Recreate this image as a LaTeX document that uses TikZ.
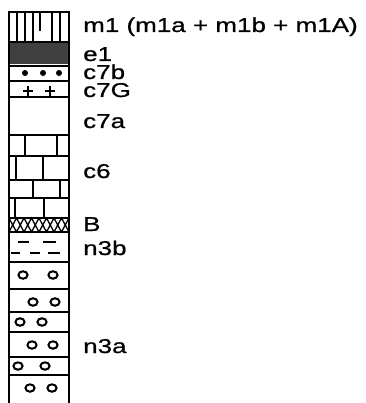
\documentclass[tikz,border=0pt]{standalone}
\usepackage{fontspec}
\newfontfamily\labelfont[FakeStretch=1.3, FakeBold=0.8]{Liberation Sans}
\begin{document}
\begin{tikzpicture}[x=1pt,y=-1pt,
  bed/.style={line width=1.5pt},
  frame/.style={line width=2.2pt},
  pebble/.style={line width=2pt, x radius=4.6pt, y radius=3.7pt},
  unit/.style={anchor=base west, inner sep=0pt, font=\labelfont\fontsize{20}{20}\selectfont}]
\useasboundingbox (0,0) rectangle (365,403);
\fill[white] (0,0) rectangle (365,403);

% m1: vertical ruling
\foreach \x in {17,25,33,52,60} \draw[line width=1.1pt] (\x,12) -- (\x,42);
\draw[line width=1.1pt] (40,12) -- (40,31);
% e1: dark band
\fill[black!75] (9,42) rectangle (69,64);
% c7b: dots
\foreach \x in {25,43,59} \fill (\x,73) circle (3pt);
% c7G: crosses
\foreach \x in {28,50} {
  \draw[line width=1.6pt] (\x-5,91) -- (\x+5,91);
  \draw[line width=1.6pt] (\x,86) -- (\x,96);
}
% c6: bricks
\draw[bed] (9,156) -- (69,156);
\draw[bed] (9,180) -- (69,180);
\draw[bed] (9,198) -- (69,198);
\foreach \x in {25,57} \draw[bed] (\x,135) -- (\x,156);
\foreach \x in {16,43} \draw[bed] (\x,156) -- (\x,180);
\foreach \x in {33,60} \draw[bed] (\x,180) -- (\x,198);
\foreach \x in {15,44} \draw[bed] (\x,198) -- (\x,218);
% B: cross-hatching
\foreach \i in {0,...,3} {
  \pgfmathsetmacro{\a}{9+15*\i}
  \draw[line width=1.3pt] (\a,218) -- (\a+7.5,232) -- (\a+15,218);
  \draw[line width=1.3pt] (\a,232) -- (\a+7.5,218) -- (\a+15,232);
}
% n3b: dashes
\foreach \a/\b in {18/29,43/56} \draw[line width=1.8pt] (\a,242) -- (\b,242);
\foreach \a/\b in {11/20,30/40,48/60} \draw[line width=1.8pt] (\a,253) -- (\b,253);
% n3a: conglomerate beds and pebbles
\foreach \y in {289,312,332,357,375} \draw[bed] (9,\y) -- (69,\y);
\foreach \x/\y in {23/275,53/275,33/302,55/302,20/322,42/322,
                   32/345,53/345,18/366,45/366,30/388,52/388}
  \draw[pebble] (\x,\y) ellipse [];

% bed boundaries
\foreach \y in {42,66,81,97,135,218,232,262} \draw[bed] (9,\y) -- (69,\y);
% column frame
\draw[frame] (9,404) -- (9,12) -- (69,12) -- (69,404);

% unit names
\node[unit] (m1) at (83,32) {m1 (m1a + m1b + m1A)};
\node[unit] (e1) at (83,61) {e1};
\node[unit] (c7b) at (83,79) {c7b};
\node[unit] (c7G) at (83,97) {c7G};
\node[unit] (c7a) at (83,128) {c7a};
\node[unit] (c6) at (83,178) {c6};
\node[unit] (B) at (83,231) {B};
\node[unit] (n3b) at (83,255) {n3b};
\node[unit] (n3a) at (83,353) {n3a};
\end{tikzpicture}
\end{document}
